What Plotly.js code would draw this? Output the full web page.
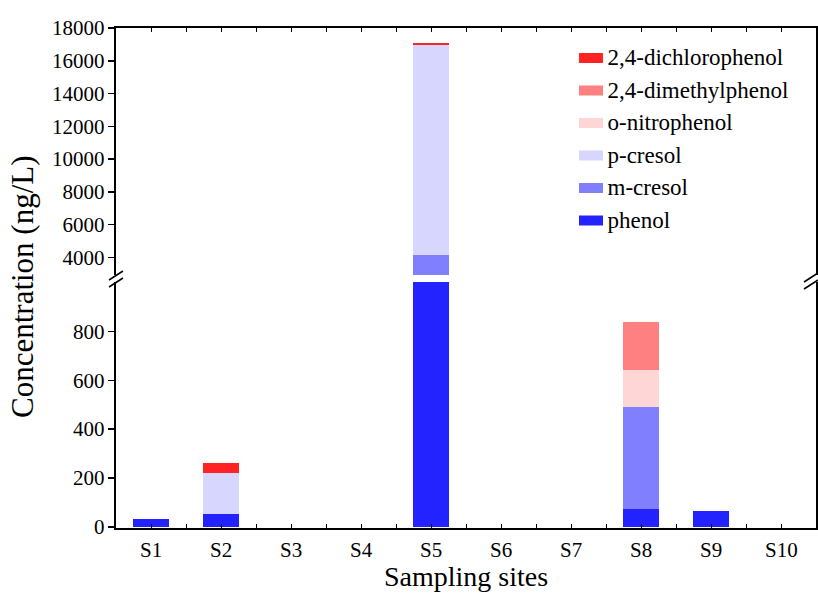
<!DOCTYPE html>
<html>
<head>
<meta charset="utf-8">
<script src="https://cdn.plot.ly/plotly-3.0.1.min.js"></script>
<style>
html,body{margin:0;padding:0;background:#fff;overflow:hidden;}
#wrap{width:818px;height:593px;overflow:hidden;position:relative;}
#chart{width:1636px;height:1186px;transform:scale(0.5);transform-origin:0 0;}
</style>
</head>
<body>
<div id="wrap"><div id="chart"></div></div>
<script>
// ---- data (ng/L) ----
const categories = ['S1','S2','S3','S4','S5','S6','S7','S8','S9','S10'];
const phenol     = [30, 52, 0, 0, 2600, 0, 0, 71, 64, 0];
const mCresol    = [0, 0, 0, 0, 1540, 0, 0, 418, 0, 0];
const pCresol    = [0, 168, 0, 0, 12850, 0, 0, 0, 0, 0];
const oNitrophenol = [0, 0, 0, 0, 0, 0, 0, 154, 0, 0];
const dimethylphenol = [0, 0, 0, 0, 0, 0, 0, 195, 0, 0];
const dichlorophenol = [0, 40, 0, 0, 110, 0, 0, 0, 0, 0];
const lowerTicks = [0, 200, 400, 600, 800];
const upperTicks = [4000, 6000, 8000, 10000, 12000, 14000, 16000, 18000];

const seriesNames = ['phenol','m-cresol','p-cresol','o-nitrophenol','2,4-dimethylphenol','2,4-dichlorophenol'];
const seriesValues = [phenol, mCresol, pCresol, oNitrophenol, dimethylphenol, dichlorophenol];
const seriesColors = ['#2323FF','#8080FF','#D6D6FF','#FFD6D6','#FF8080','#FF2323'];

const xIdx = categories.map((c, i) => i);
const traces = [];
seriesNames.forEach((name, k) => {
  traces.push({type:'bar', name:name, x:xIdx, y:seriesValues[k], xaxis:'x', yaxis:'y',
    marker:{color:seriesColors[k], line:{width:0}}, showlegend:false, hoverinfo:'skip'});
  traces.push({type:'bar', name:name, x:xIdx, y:seriesValues[k], xaxis:'x2', yaxis:'y2',
    marker:{color:seriesColors[k], line:{width:0}}, showlegend:false, hoverinfo:'skip'});
});

const S = 2; // drawn at 2x, shown at 1x through a CSS scale
const FONT = 'Liberation Serif';
const L = 116, R = 816, T = 28, B = 528;
const px = x => (x - L) / (R - L);
const py = y => (B - y) / (B - T);

const xCommon = {
  range:[-0.5, 9.5], tickmode:'array', tickvals:xIdx, showticklabels:false,
  ticks:'inside', ticklen:4*S, tickwidth:1*S, tickcolor:'#000',
  minor:{ticks:'inside', ticklen:4*S, tickwidth:1*S, tickcolor:'#000', tickmode:'linear', tick0:-0.5, dtick:1, showgrid:false},
  showline:true, linewidth:2*S, linecolor:'#000', showgrid:false, zeroline:false, fixedrange:true
};
const yCommon = {
  ticks:'outside', ticklen:6*S, tickwidth:1.5*S, tickcolor:'#000', showline:true, linewidth:2*S, linecolor:'#000',
  mirror:true, showgrid:false, zeroline:false, tickmode:'array', showticklabels:false, fixedrange:true
};

const brk = (x1, y1, x2, y2) => ({type:'line', xref:'paper', yref:'paper', x0:px(x1), y0:py(y1), x1:px(x2), y1:py(y2), line:{color:'#000', width:1.5*S}});
const txt = (text, o, size) => Object.assign({text:text, showarrow:false, borderpad:0, font:{family:FONT, size:(size || 21)*S, color:'#000'}}, o);

const annotations = [];
// tick labels (placed through the axes' own scales)
lowerTicks.forEach(v => annotations.push(txt(String(v), {xref:'paper', yref:'y', x:px(105), y:v, xanchor:'right', yanchor:'middle'})));
upperTicks.forEach(v => annotations.push(txt(String(v), {xref:'paper', yref:'y2', x:px(105), y:v, xanchor:'right', yanchor:'middle'})));
categories.forEach((c, i) => annotations.push(txt(c, {xref:'x', yref:'paper', x:i, y:py(550), xanchor:'center', yanchor:'middle'})));
// axis titles
annotations.push(txt('Concentration (ng/L)', {xref:'paper', yref:'paper', x:px(22), y:py(287), xanchor:'center', yanchor:'middle', textangle:-90}, 31));
annotations.push(txt('Sampling sites', {xref:'paper', yref:'paper', x:px(466), y:py(576), xanchor:'center', yanchor:'middle'}, 28));

// legend (top entry = last series)
const shapes = [
  brk(109, 280, 123, 271), brk(109, 287, 123, 278),
  brk(804, 282, 818, 273), brk(804, 289, 818, 280)
];
const legendRowY = [58, 90.5, 123, 155.5, 188, 220.5];
seriesNames.slice().reverse().forEach((name, r) => {
  const k = seriesNames.length - 1 - r;
  const yc = legendRowY[r];
  shapes.push({type:'rect', xref:'paper', yref:'paper', x0:px(579), x1:px(603), y0:py(yc+5), y1:py(yc-5), fillcolor:seriesColors[k], line:{width:0}});
  annotations.push(txt(name, {xref:'paper', yref:'paper', x:px(607), y:py(yc-1), xanchor:'left', yanchor:'middle'}, 23));
});

const layout = {
  width:818*S, height:593*S,
  margin:{l:L*S, r:(818-R)*S, t:T*S, b:(593-B)*S, pad:0},
  paper_bgcolor:'#fff', plot_bgcolor:'rgba(0,0,0,0)',
  barmode:'stack', bargap:0.49, showlegend:false,
  font:{family:FONT, color:'#000', size:21*S},
  xaxis:Object.assign({}, xCommon, {anchor:'y', domain:[0,1]}),
  xaxis2:Object.assign({}, xCommon, {anchor:'y2', domain:[0,1], side:'top', matches:'x'}),
  yaxis:Object.assign({}, yCommon, {domain:[0, py(282)], range:[-5, 1003], tickvals:lowerTicks}),
  yaxis2:Object.assign({}, yCommon, {domain:[py(275), 1], range:[2920, 18000], tickvals:upperTicks}),
  annotations:annotations,
  shapes:shapes
};

Plotly.newPlot('chart', traces, layout, {displayModeBar:false, staticPlot:true});
</script>
</body>
</html>
